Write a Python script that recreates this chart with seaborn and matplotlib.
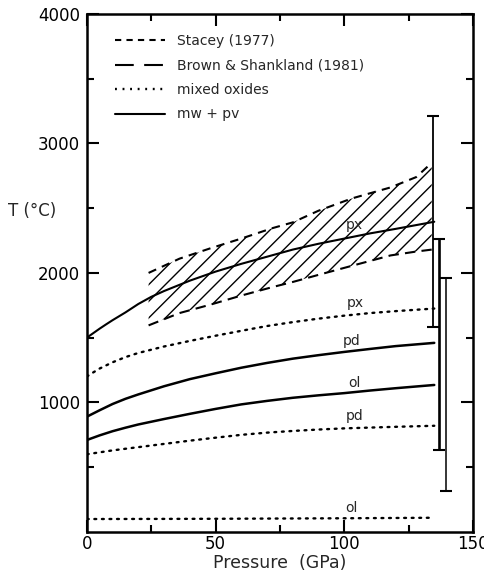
import numpy as np
import pandas as pd
import matplotlib
matplotlib.use("Agg")
import matplotlib.pyplot as plt
from matplotlib.lines import Line2D
import seaborn as sns

# ---------------- data ----------------
px_mw_P = [0, 2.5, 5, 7.5, 10, 15, 20, 25, 30, 40, 50, 60, 70, 80, 90, 100, 110, 120, 135]
px_mw_T = [1500, 1535, 1570, 1603, 1635, 1695, 1760, 1815, 1860, 1940, 2010, 2070, 2125,
           2180, 2225, 2265, 2305, 2340, 2395]

px_ox_P = [0, 2.5, 5, 10, 15, 20, 30, 40, 50, 60, 70, 80, 90, 100, 110, 120, 135]
px_ox_T = [1200, 1232, 1262, 1310, 1350, 1382, 1432, 1475, 1515, 1553, 1590, 1620, 1647,
           1670, 1690, 1705, 1725]

pd_mw_P = [0, 2.5, 5, 10, 15, 20, 30, 40, 50, 60, 70, 80, 90, 100, 110, 120, 135]
pd_mw_T = [890, 915, 940, 988, 1028, 1062, 1125, 1180, 1225, 1268, 1305, 1338, 1365,
           1390, 1413, 1435, 1460]

ol_mw_P = [0, 2.5, 5, 10, 15, 20, 30, 40, 50, 60, 70, 80, 90, 100, 110, 120, 135]
ol_mw_T = [710, 728, 746, 778, 805, 830, 872, 912, 950, 985, 1012, 1036, 1055,
           1072, 1092, 1110, 1135]

pd_ox_P = [0, 5, 10, 20, 30, 40, 50, 60, 70, 80, 90, 100, 120, 135]
pd_ox_T = [600, 615, 630, 655, 680, 705, 728, 750, 767, 780, 791, 800, 812, 820]

ol_ox_P = [0, 50, 100, 135]
ol_ox_T = [100, 102, 106, 110]

band_P = [24, 36, 48, 60, 72, 80, 90, 103, 118, 128, 134]
stacey_T = [2000, 2110, 2190, 2265, 2345, 2390, 2480, 2575, 2660, 2740, 2850]
brown_T = [1595, 1690, 1755, 1825, 1890, 1930, 1985, 2055, 2135, 2165, 2180]

err_P = [134.5, 137.0, 139.5]
err_lo = [1580, 635, 315]
err_hi = [3210, 2260, 1960]
err_lw = [1.3, 1.9, 1.1]

labels = ["px", "px", "pd", "ol", "pd", "ol"]
label_P = [104, 104.5, 103, 104, 104, 103]
label_T = [2367, 1764, 1478, 1153, 897, 186]

legend_names = ["Stacey (1977)", "Brown & Shankland (1981)", "mixed oxides", "mw + pv"]

# ---------------- style ----------------
sns.set_style("ticks")
plt.rcParams["font.family"] = ["DejaVu Sans"]

fig = plt.figure(figsize=(4.85, 5.77), dpi=100)
ax = fig.add_axes([0.179, 0.078, 0.796, 0.898])

dot = (0, (0.8, 2.4))
solid_curves = [(px_mw_P, px_mw_T, 1.5), (pd_mw_P, pd_mw_T, 1.8), (ol_mw_P, ol_mw_T, 1.8)]
dotted_curves = [(px_ox_P, px_ox_T), (pd_ox_P, pd_ox_T), (ol_ox_P, ol_ox_T)]

for P, T, lw in solid_curves:
    sns.lineplot(x=P, y=T, ax=ax, color="black", lw=lw, sort=False)
for P, T in dotted_curves:
    sns.lineplot(x=P, y=T, ax=ax, color="black", lw=1.7, sort=False,
                 linestyle=dot, dash_capstyle="round")

# hatched band
ax.fill_between(band_P, brown_T, stacey_T, facecolor="none", edgecolor="black",
                hatch="//", linewidth=0)
sns.lineplot(x=band_P, y=stacey_T, ax=ax, color="black", lw=1.5, sort=False,
             linestyle=(0, (4, 3)))
sns.lineplot(x=band_P, y=brown_T, ax=ax, color="black", lw=1.5, sort=False,
             linestyle=(0, (5, 3)))

# error bars
for P, lo, hi, lw in zip(err_P, err_lo, err_hi, err_lw):
    mid = (lo + hi) / 2
    ax.errorbar([P], [mid], yerr=[[mid - lo], [hi - mid]], fmt="none",
                ecolor="black", elinewidth=lw, capsize=4.5, capthick=1.5)

# curve labels
for s, P, T in zip(labels, label_P, label_T):
    ax.text(P, T, s, ha="center", va="center", fontsize=10)

# axes
ax.set_xlim(0, 150)
ax.set_ylim(0, 4000)
ax.set_xticks([0, 50, 100, 150])
ax.set_xticks([25, 75, 125], minor=True)
ax.set_yticks([1000, 2000, 3000, 4000])
ax.set_yticks([500, 1500, 2500, 3500], minor=True)
ax.tick_params(which="both", direction="in", top=True, right=True,
               labelsize=12, width=1.5, colors="black")
ax.tick_params(which="major", length=8.5)
ax.tick_params(which="minor", length=5)
ax.tick_params(axis="x", which="major", pad=2)
ax.tick_params(axis="y", which="major", pad=5)
for sp in ax.spines.values():
    sp.set_linewidth(1.8)
    sp.set_color("black")
    sp.set_visible(True)

ax.set_xlabel("Pressure  (GPa)", fontsize=12.5, labelpad=1)
ax.set_ylabel("")
fig.text(0.017, 0.635, "T (°C)", fontsize=12, ha="left", va="center")

handles = [
    Line2D([], [], color="black", lw=1.5, linestyle=(0, (3, 2.5))),
    Line2D([], [], color="black", lw=1.5, linestyle=(0, (9, 5))),
    Line2D([], [], color="black", lw=1.7, linestyle=dot),
    Line2D([], [], color="black", lw=1.5),
]
ax.legend(handles, legend_names, loc="upper left", bbox_to_anchor=(0.04, 0.985),
          frameon=False, fontsize=10, handlelength=3.6, handletextpad=0.9,
          labelspacing=0.75)

fig.savefig("out.png", dpi=100)
